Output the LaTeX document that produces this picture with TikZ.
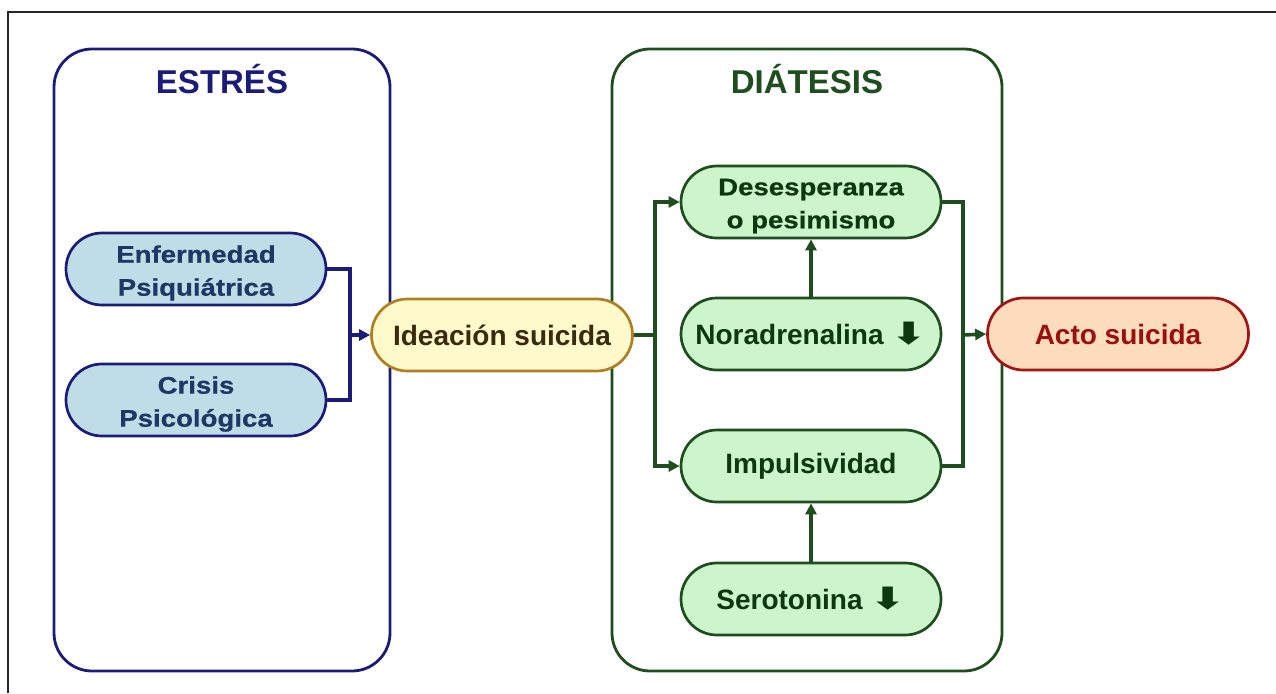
\documentclass[tikz,border=0pt]{standalone}
\usepackage{fontspec}
\setmainfont{Liberation Sans}
\newfontfamily\widefont[FakeStretch=1.15,FakeBold=0.6]{Liberation Sans}
\newfontfamily\arrowfont{DejaVu Sans}
\usetikzlibrary{arrows.meta}

\definecolor{navyline}{HTML}{1B1B7A}
\definecolor{bluefill}{HTML}{BFDDE6}
\definecolor{bluetext}{HTML}{1E3866}
\definecolor{greenline}{HTML}{1E4D1E}
\definecolor{greenfill}{HTML}{CCF5CC}
\definecolor{greentext}{HTML}{0C380E}
\definecolor{goldline}{HTML}{B08020}
\definecolor{yellowfill}{HTML}{FFF9CC}
\definecolor{browntext}{HTML}{3B2A0E}
\definecolor{redline}{HTML}{A31515}
\definecolor{peachfill}{HTML}{FDDCBE}
\definecolor{redtext}{HTML}{99100F}

% heavy downward arrow used after the neurotransmitter names
\newcommand{\downarrowsym}{{\arrowfont\bfseries\scalebox{1.5}[1.1]{⬇}}}

\tikzset{
  groupbox/.style={draw=#1, line width=2.8pt, rounded corners=38pt,
    minimum width=336pt, minimum height=622pt, inner sep=0pt},
  grouptitle/.style={text=#1, font=\bfseries\fontsize{33}{38}\selectfont},
  pill/.style={rectangle, rounded corners=35.9pt, minimum width=260pt,
    minimum height=72pt, inner sep=0pt, line width=2.7pt, align=center,
    font=\bfseries\fontsize{28}{34}\selectfont},
  twotext/.style={align=center, inner sep=0pt,
    font=\widefont\bfseries\fontsize{24}{33}\selectfont},
  bluepill/.style={pill, draw=navyline, fill=bluefill, text=bluetext},
  yellowpill/.style={pill, draw=goldline, fill=yellowfill, text=browntext},
  greenpill/.style={pill, draw=greenline, fill=greenfill, text=greentext},
  redpill/.style={pill, draw=redline, fill=peachfill, text=redtext},
  link/.style={line width=3.6pt, draw=#1},
  tip/.style={-{Triangle[length=11pt,width=11pt]}},
}

\begin{document}
\begin{tikzpicture}[x=1pt,y=-1pt]
\useasboundingbox (0,0) rectangle (1276,693);

% page frame
\coordinate (frameBL) at (8,693);
\coordinate (frameTL) at (8,12);
\coordinate (frameTR) at (1276,12);
\draw[line width=2pt, black!85] (frameBL) -- (frameTL) -- (frameTR);

% group boxes
\node[groupbox=navyline] (estres) at (222,360) {};
\node[grouptitle=navyline] (estresT) at (222,79) {ESTRÉS};
\node[groupbox=greenline, minimum width=390pt] (diat) at (807,360) {};
\node[grouptitle=greenline] (diatT) at (807,79) {DIÁTESIS};

% stress nodes (two-line labels set as separate text nodes)
\node[bluepill] (enf) at (196,269) {};
\node[twotext, text=bluetext] (enfT) at (196,273) {Enfermedad\\Psiquiátrica};
\node[bluepill] (cri) at (196,400) {};
\node[twotext, text=bluetext] (criT) at (196,404) {Crisis\\Psicológica};

% ideation
\node[yellowpill, minimum width=261pt] (ide) at (502,335) {Ideación suicida};

% diathesis nodes
\node[greenpill] (des) at (811,202) {};
\node[twotext, text=greentext] (desT) at (811,206) {Desesperanza\\o pesimismo};
\node[greenpill] (nor) at (811,334) {Noradrenalina \downarrowsym};
\node[greenpill] (imp) at (811,466) {Impulsividad};
\node[greenpill] (ser) at (811,599) {Serotonina \downarrowsym};

% suicidal act
\node[redpill, minimum width=261pt] (acto) at (1118,334) {Acto suicida};

% junction points
\coordinate (jl) at (350,335);
\coordinate (jm) at (655,335);
\coordinate (jr) at (963,335);

% stress to ideation
\draw[link=navyline] (enf.east) -| (jl);
\draw[link=navyline] (cri.east) -| (jl);
\draw[link=navyline, tip] (jl) -- (ide.west);

% ideation to diathesis
\draw[link=greenline] (ide.east) -- (jm);
\draw[link=greenline, tip] (jm) |- (des.west);
\draw[link=greenline, tip] (jm) |- (imp.west);
\draw[link=greenline, tip] (nor.north) -- (des.south);
\draw[link=greenline, tip] (ser.north) -- (imp.south);

% diathesis to act
\draw[link=greenline] (des.east) -| (jr);
\draw[link=greenline] (imp.east) -| (jr);
\draw[link=greenline, tip] (jr) -- (acto.west);
\end{tikzpicture}
\end{document}
